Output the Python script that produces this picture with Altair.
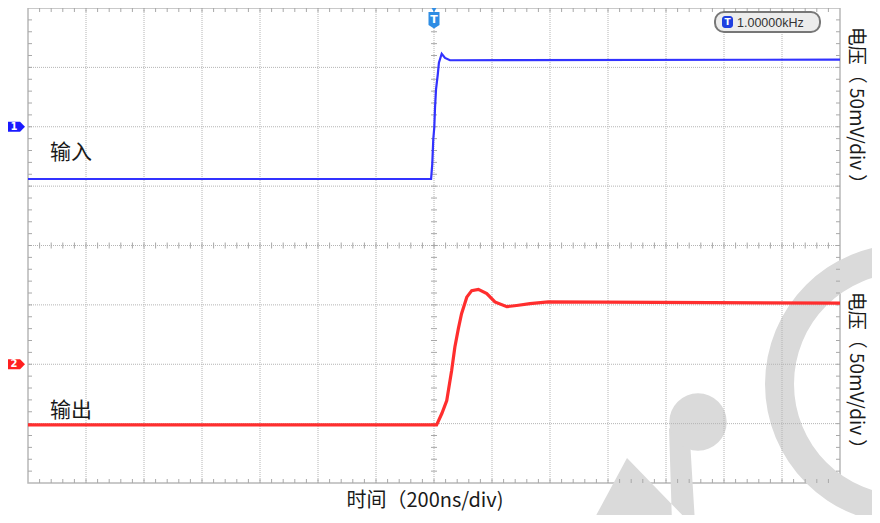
import altair as alt
import pandas as pd

# ---------------- data ----------------
# time in ns relative to trigger (200 ns/div), voltage in mV (50 mV/div)
blue_t = [-1400, -10, -6, -2.5, 1, 3.5, 7, 13, 17, 26.5, 38, 55, 1400]
blue_mv = [56, 56, 68.5, 89.5, 99.5, 116, 131.5, 144, 154, 161.5, 158, 156, 156.5]

red_t = [-1400, 9, 27, 44, 61, 72, 84, 95, 113, 130, 153, 182, 210, 251, 285, 331, 394, 1400]
red_mv = [-151, -151, -141.5, -130.5, -105, -85.5, -70, -57.5, -43.5, -38, -37, -40.5,
          -47.5, -51.5, -50.5, -49, -47.5, -48.5]

channels = ["1", "2"]
channel_ground_mv = [100, -100]
channel_colors = ["#1a1aff", "#ff1f1f"]

trace_labels = ["输入", "输出"]
x_title = "时间（200ns/div)"
y_title = "电压（ 50mV/div ）"
freq_text = "1.00000kHz"

# ---------------- geometry ----------------
W, H = 812, 475
X_DOM = [-1400, 1400]
Y_DOM = [-200, 200]
xs = alt.Scale(domain=X_DOM, nice=False, zero=False)
ys = alt.Scale(domain=Y_DOM, nice=False, zero=False)

grid_x = [X_DOM[0] + 200 * k for k in range(1, 14)]
grid_y = [Y_DOM[0] + 50 * k for k in range(1, 8)]
minor_x = [X_DOM[0] + 40 * k for k in range(1, 70)]
minor_y = [Y_DOM[0] + 10 * k for k in range(1, 40)]

GRID = "#b4b4b4"
TICK = "#a8a8a8"
WM = "#dadada"
CJK = "Noto Sans CJK SC"

X = lambda f: alt.X(f, scale=xs, axis=None)
Y = lambda f: alt.Y(f, scale=ys, axis=None)

dfx = pd.DataFrame({"t": grid_x})
dfy = pd.DataFrame({"v": grid_y})
dmx = pd.DataFrame({"t": minor_x})
dmy = pd.DataFrame({"v": minor_y})
one = pd.DataFrame({"a": [0]})

layers = []

# faint watermark logo (decoration, bottom right)
layers.append(alt.Chart(one).mark_arc(radius=140, radius2=111, theta=0, theta2=6.2832, color=WM).encode(
    x=alt.value(877), y=alt.value(376)))
logo = ("M599,450 L564,515 L662,515 Z "
        "M641,420 L662,432 L667,515 L644,515 Z")
layers.append(alt.Chart(one).mark_point(shape=logo, size=4, filled=True, opacity=1, color=WM, strokeWidth=0).encode(
    x=alt.value(0), y=alt.value(0)))
layers.append(alt.Chart(one).mark_point(shape="circle", size=3300, filled=True, opacity=1, color=WM, strokeWidth=0).encode(
    x=alt.value(670), y=alt.value(414)))

# grid
layers.append(alt.Chart(dfx).mark_rule(color=GRID, strokeDash=[1, 1], strokeWidth=1).encode(x=X("t:Q")))
layers.append(alt.Chart(dfy).mark_rule(color=GRID, strokeDash=[1, 1], strokeWidth=1).encode(y=Y("v:Q")))

# minor ticks on borders and centre lines
for y0, y1 in [(0, 4), (H - 4, H), (H / 2 - 3, H / 2 + 3)]:
    layers.append(alt.Chart(dmx).mark_rule(color=TICK, strokeWidth=1).encode(
        x=X("t:Q"), y=alt.value(y0), y2=alt.value(y1)))
for x0, x1 in [(0, 4), (W - 4, W), (W / 2 - 3, W / 2 + 3)]:
    layers.append(alt.Chart(dmy).mark_rule(color=TICK, strokeWidth=1).encode(
        y=Y("v:Q"), x=alt.value(x0), x2=alt.value(x1)))

# traces
dfb = pd.DataFrame({"t": blue_t, "mv": blue_mv})
dfr = pd.DataFrame({"t": red_t, "mv": red_mv})
layers.append(alt.Chart(dfb).mark_line(color="#3232ff", strokeWidth=2.2).encode(x=X("t:Q"), y=Y("mv:Q")))
layers.append(alt.Chart(dfr).mark_line(color="#ff2e2e", strokeWidth=3.2).encode(x=X("t:Q"), y=Y("mv:Q")))

# channel markers
dch = pd.DataFrame({"ch": channels, "mv": channel_ground_mv, "col": channel_colors})
flag = "M-1,-0.59 L0.42,-0.59 L1,0 L0.42,0.59 L-1,0.59 Z"
layers.append(alt.Chart(dch).mark_point(shape=flag, filled=True, size=289, opacity=1, strokeWidth=0).encode(
    x=alt.value(-11.5), y=Y("mv:Q"), color=alt.Color("col:N", scale=None)))
layers.append(alt.Chart(dch).mark_text(color="white", fontSize=10, fontWeight="bold", font="DejaVu Sans").encode(
    x=alt.value(-14), y=Y("mv:Q"), text="ch:N"))

# trace labels
dlab = pd.DataFrame({"lab": trace_labels, "py": [145, 403]})
layers.append(alt.Chart(dlab).mark_text(align="left", baseline="middle", fontSize=21, font=CJK, color="#1a1a1a").encode(
    x=alt.value(22), y=alt.Y("py:Q", scale=None), text="lab:N"))

# trigger marker
dtrig = pd.DataFrame({"t": [0]})
shield = "M-1,-1.45 L1,-1.45 L1,0.9 L0,1.55 L-1,0.9 Z"
layers.append(alt.Chart(dtrig).mark_point(shape="triangle-down", filled=True, size=40, opacity=1, color="#2f8de4", strokeWidth=0).encode(
    x=X("t:Q"), y=alt.value(1.5)))
layers.append(alt.Chart(dtrig).mark_point(shape=shield, filled=True, size=121, opacity=1, color="#2f8de4", strokeWidth=0).encode(
    x=X("t:Q"), y=alt.value(12)))
layers.append(alt.Chart(dtrig).mark_text(text="T", color="white", fontSize=11, fontWeight="bold", font="DejaVu Sans").encode(
    x=X("t:Q"), y=alt.value(12)))

# frequency readout box
layers.append(alt.Chart(one).mark_rect(cornerRadius=9, fill="#ececec", stroke="#777777", strokeWidth=2).encode(
    x=alt.value(687), x2=alt.value(792), y=alt.value(4), y2=alt.value(24)))
layers.append(alt.Chart(one).mark_rect(cornerRadius=3, fill="#1f3fe0").encode(
    x=alt.value(694), x2=alt.value(705), y=alt.value(8), y2=alt.value(20)))
layers.append(alt.Chart(one).mark_text(text="T", color="white", fontSize=9, fontWeight="bold", font="DejaVu Sans").encode(
    x=alt.value(699.5), y=alt.value(14)))
layers.append(alt.Chart(one).mark_text(text=freq_text, align="left", baseline="middle", fontSize=12.5,
                                        font="Liberation Sans", color="#333333").encode(
    x=alt.value(709), y=alt.value(14.5)))

# right-hand rotated titles (baseline on the left, glyphs extend to the right)
dyt = pd.DataFrame({"lab": [y_title, y_title], "py": [102, 367]})
layers.append(alt.Chart(dyt).mark_text(angle=90, align="center", baseline="alphabetic", fontSize=19, font=CJK, color="#1a1a1a").encode(
    x=alt.value(822), y=alt.Y("py:Q", scale=None), text="lab:N"))

# bottom title
layers.append(alt.Chart(one).mark_text(text=x_title, align="center", baseline="middle", fontSize=20, font=CJK, color="#1a1a1a").encode(
    x=alt.value(397), y=alt.value(493)))

chart = alt.layer(*layers).properties(
    width=W, height=H,
    padding={"left": 20, "top": 0, "right": 32, "bottom": 32},
    autosize="none",
).configure_view(stroke="#b8b8b8", strokeWidth=1.5)

chart.save("out.html", embed_options={"renderer": "svg", "actions": False})
